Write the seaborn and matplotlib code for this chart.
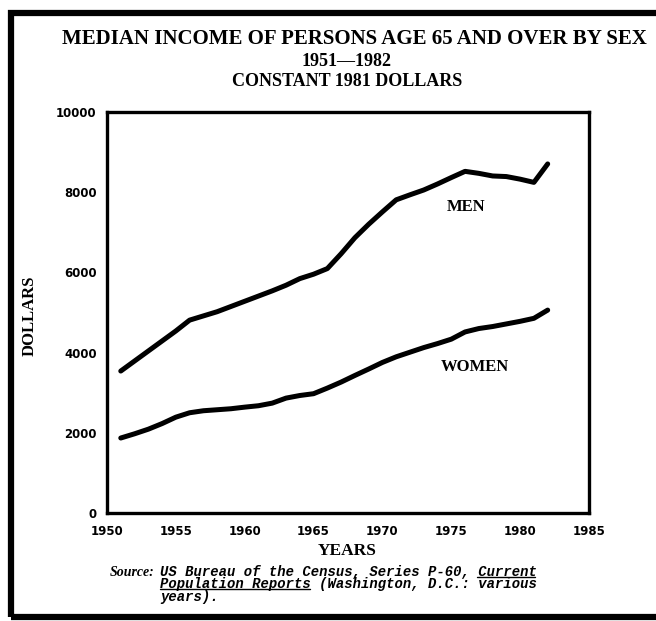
import matplotlib
matplotlib.use("Agg")
import matplotlib.pyplot as plt
import matplotlib.patches as mpatches
from matplotlib.lines import Line2D
import seaborn as sns
import pandas as pd

years = [1951, 1952, 1953, 1954, 1955, 1956, 1957, 1958, 1959, 1960,
         1961, 1962, 1963, 1964, 1965, 1966, 1967, 1968, 1969, 1970,
         1971, 1972, 1973, 1974, 1975, 1976, 1977, 1978, 1979, 1980,
         1981, 1982]
men = [3540, 3790, 4040, 4290, 4540, 4810, 4915, 5020, 5150, 5280,
       5410, 5540, 5680, 5845, 5955, 6095, 6465, 6865, 7200, 7510,
       7810, 7935, 8055, 8205, 8365, 8520, 8470, 8405, 8390, 8325,
       8245, 8705]
women = [1870, 1975, 2090, 2230, 2390, 2500, 2550, 2575, 2600, 2640,
         2675, 2740, 2865, 2930, 2975, 3115, 3265, 3430, 3590, 3755,
         3895, 4010, 4125, 4225, 4335, 4515, 4600, 4650, 4715, 4780,
         4855, 5060]
x_ticks = [1950, 1955, 1960, 1965, 1970, 1975, 1980, 1985]
y_ticks = [0, 2000, 4000, 6000, 8000, 10000]
series_labels = ["MEN", "WOMEN"]
label_pos_x = [1976.1, 1976.7]
label_pos_y = [7630, 3650]
title_lines = ["MEDIAN INCOME OF PERSONS AGE 65 AND OVER BY SEX",
               "1951\u20141982",
               "CONSTANT 1981 DOLLARS"]
source_lines = ["US Bureau of the Census, Series P-60, Current",
                "Population Reports (Washington, D.C.: various",
                "years)."]

df = pd.DataFrame({
    "year": years * 2,
    "income": men + women,
    "sex": [series_labels[0]] * len(years) + [series_labels[1]] * len(years),
})

sns.set_style("white")
plt.rcParams["font.family"] = ["Liberation Serif", "DejaVu Serif"]
plt.rcParams["text.color"] = "black"
plt.rcParams["axes.labelcolor"] = "black"

W, H = 656, 621
fig = plt.figure(figsize=(W / 100, H / 100), dpi=100)
ax = fig.add_axes([107 / W, 1 - 513 / H, (589 - 107) / W, (513 - 112) / H])

sns.lineplot(data=df, x="year", y="income", hue="sex",
             palette={series_labels[0]: "black", series_labels[1]: "black"},
             linewidth=3.6, legend=False, ax=ax)

ax.set_xlim(1950, 1985)
ax.set_ylim(0, 10000)
ax.set_xticks(x_ticks)
ax.set_yticks(y_ticks)
tick_font = dict(fontsize=8.5, fontweight="bold", family=["DejaVu Sans"])
ax.set_xticklabels([str(v) for v in x_ticks], **tick_font)
ax.set_yticklabels([str(v) for v in y_ticks], **tick_font)
ax.tick_params(axis="x", direction="out", length=4, width=1.8, color="black",
               pad=4.5, labelcolor="black")
ax.tick_params(axis="y", direction="out", length=6, width=1.8, color="black",
               pad=1.5, labelcolor="black")
for sp in ax.spines.values():
    sp.set_visible(True)
    sp.set_color("black")
    sp.set_linewidth(2.4)

ax.set_xlabel("YEARS", fontsize=12.5, fontweight="bold", va="center")
ax.xaxis.set_label_coords((347 - 107) / 482, -(551 - 513) / 401)
ax.set_ylabel("DOLLARS", fontsize=12, fontweight="bold", va="center")
ax.yaxis.set_label_coords((30 - 107) / 482, (513 - 316) / 401)

for lbl, lx, ly in zip(series_labels, label_pos_x, label_pos_y):
    ax.text(lx, ly, lbl, fontsize=12, fontweight="bold", ha="center", va="center")

# Title lines
fig.text(354 / W, 1 - 39 / H, title_lines[0], ha="center", va="center",
         fontsize=15, fontweight="bold")
fig.text(347 / W, 1 - 61 / H, title_lines[1], ha="center", va="center",
         fontsize=13, fontweight="bold")
fig.text(347 / W, 1 - 81 / H, title_lines[2], ha="center", va="center",
         fontsize=13, fontweight="bold")

# Source note
fig.text(110 / W, 1 - 573 / H, "Source:", va="center", ha="left",
         fontsize=10, style="italic", fontweight="bold")
mono_size = 10
src = fig.text(160 / W, 1 - 565 / H, "\n".join(source_lines), va="top", ha="left",
               fontsize=mono_size, family=["Liberation Mono", "DejaVu Sans Mono"],
               style="italic", fontweight="bold", linespacing=0.86)

# underline "Current" and "Population Reports"
fig.canvas.draw()
bb = src.get_window_extent()
n = len(source_lines)
charw = mono_size * 0.6 * 100 / 72
one = fig.text(0, 0, "Population", fontsize=mono_size,
               family=["Liberation Mono", "DejaVu Sans Mono"])
h1 = one.get_window_extent().height
one.remove()
step = (bb.height - h1) / (n - 1)
x0 = 160
for li, (c0, c1) in [(0, (38, 45)), (1, (0, 18))]:
    yb = bb.y1 - h1 * 0.84 - li * step
    fig.add_artist(Line2D([(x0 + c0 * charw) / W, (x0 + c1 * charw) / W],
                          [yb / H, yb / H], transform=fig.transFigure,
                          color="black", linewidth=1.0))

# Outer frame
frame = mpatches.Rectangle((11 / W, 1 - 617 / H), (700 - 11) / W, (617 - 13) / H,
                           transform=fig.transFigure, fill=False, edgecolor="black",
                           linewidth=4.5, clip_on=False)
fig.patches.append(frame)

fig.savefig("out.png", dpi=100)
